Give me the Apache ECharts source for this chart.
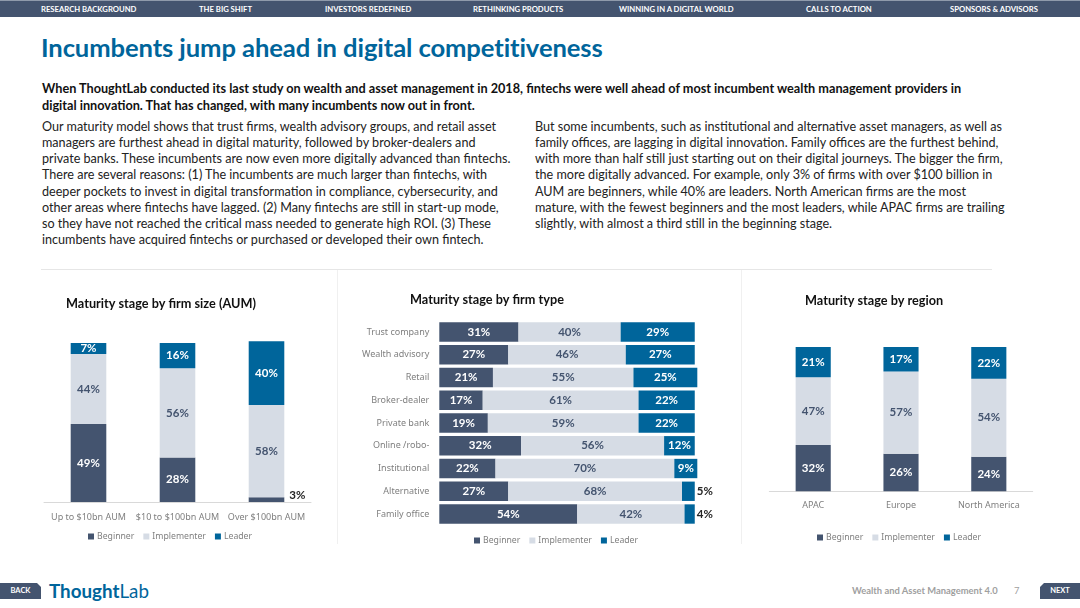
<!DOCTYPE html>
<html>
<head>
<meta charset="utf-8">
<script src="https://cdn.jsdelivr.net/npm/echarts@6/dist/echarts.min.js"></script>
<style>
  html, body { margin: 0; padding: 0; background: #fff; }
  #page { position: relative; width: 1080px; height: 608px; overflow: hidden; font-family: Lato, "Noto Sans", sans-serif; }
  #page div { position: absolute; white-space: nowrap; }
  #nav { left: 0; top: 0; width: 1080px; height: 17px; background: #44546f; border-top: 1px solid #8f9aab; box-sizing: border-box; }
  .navItem { top: 3px; font-size: 7.7px; line-height: 12px; font-weight: 700; color: #fff; }
  #heading { left: 41px; top: 32px; font-size: 25.6px; line-height: 30px; font-weight: 700; color: #00659b; letter-spacing: -0.1px; }
  .lead { left: 42px; font-size: 12.7px; line-height: 16px; font-weight: 700; color: #111; }
  .body { font-size: 12.6px; line-height: 16px; color: #222; }
  .rule { background: #e6e6e6; }
  .btn { top: 583px; height: 16px; background: #44546f; color: #fff; font-size: 7.5px; font-weight: 700; line-height: 16px; text-align: center; }
  #logo { left: 49px; top: 578px; font-size: 18.8px; line-height: 26px; color: #00659b; font-weight: 700; }
  #logo span { font-weight: 400; }
  #foot { left: 852px; top: 585px; font-size: 9.4px; line-height: 12px; font-weight: 700; color: #a0a0a0; }
  #pageNum { left: 1014px; top: 585px; font-size: 9.4px; line-height: 12px; color: #a0a0a0; }
  #chart { left: 0; top: 0; width: 1080px; height: 608px; }
</style>
</head>
<body>
<div id="page"></div>
<script>
const stages = ['Beginner', 'Implementer', 'Leader']

const sizeCategories = ['Up to $10bn AUM', '$10 to $100bn AUM', 'Over $100bn AUM']
const sizeBeginner = [49, 28, 3]
const sizeImplementer = [44, 56, 58]
const sizeLeader = [7, 16, 40]

const typeCategories = ['Trust company', 'Wealth advisory', 'Retail', 'Broker-dealer', 'Private bank', 'Online /robo-', 'Institutional', 'Alternative', 'Family office']
const typeBeginner = [31, 27, 21, 17, 19, 32, 22, 27, 54]
const typeImplementer = [40, 46, 55, 61, 59, 56, 70, 68, 42]
const typeLeader = [29, 27, 25, 22, 22, 12, 9, 5, 4]

const regionCategories = ['APAC', 'Europe', 'North America']
const regionBeginner = [32, 26, 24]
const regionImplementer = [47, 57, 54]
const regionLeader = [21, 17, 22]

const navItems = [['RESEARCH BACKGROUND', 41], ['THE BIG SHIFT', 199], ['INVESTORS REDEFINED', 325], ['RETHINKING PRODUCTS', 473], ['WINNING IN A DIGITAL WORLD', 619], ['CALLS TO ACTION', 806], ['SPONSORS & ADVISORS', 950]]
const leadLines = [
  'When ThoughtLab conducted its last study on wealth and asset management in 2018, fintechs were well ahead of most incumbent wealth management providers in',
  'digital innovation. That has changed, with many incumbents now out in front.',
]
const leftLines = [
  'Our maturity model shows that trust firms, wealth advisory groups, and retail asset',
  'managers are furthest ahead in digital maturity, followed by broker-dealers and',
  'private banks. These incumbents are now even more digitally advanced than fintechs.',
  'There are several reasons: (1) The incumbents are much larger than fintechs, with',
  'deeper pockets to invest in digital transformation in compliance, cybersecurity, and',
  'other areas where fintechs have lagged. (2) Many fintechs are still in start-up mode,',
  'so they have not reached the critical mass needed to generate high ROI. (3) These',
  'incumbents have acquired fintechs or purchased or developed their own fintech.',
]
const rightLines = [
  'But some incumbents, such as institutional and alternative asset managers, as well as',
  'family offices, are lagging in digital innovation. Family offices are the furthest behind,',
  'with more than half still just starting out on their digital journeys. The bigger the firm,',
  'the more digitally advanced. For example, only 3% of firms with over $100 billion in',
  'AUM are beginners, while 40% are leaders. North American firms are the most',
  'mature, with the fewest beginners and the most leaders, while APAC firms are trailing',
  'slightly, with almost a third still in the beginning stage.',
]

const colors = ['#44546f', '#d6dce5', '#00659b']
const labelColors = ['#fff', '#44546f', '#fff']

// page furniture
const page = document.getElementById('page')
function addDiv(id, cls, text, style) {
  const el = document.createElement('div')
  if (id) el.id = id
  if (cls) el.className = cls
  if (text) el.textContent = text
  Object.assign(el.style, style || {})
  page.appendChild(el)
  return el
}
addDiv('nav')
navItems.forEach((item) => addDiv('', 'navItem', item[0], { left: item[1] + 'px' }))
addDiv('heading', '', 'Incumbents jump ahead in digital competitiveness')
leadLines.forEach((line, i) => addDiv('', 'lead', line, { top: 80 + i * 17 + 'px' }))
leftLines.forEach((line, i) => addDiv('', 'body', line, { left: '42px', top: 119 + i * 16.14 + 'px' }))
rightLines.forEach((line, i) => addDiv('', 'body', line, { left: '535px', top: 119 + i * 16.14 + 'px' }))
addDiv('', 'rule', '', { left: '41px', top: '269px', width: '951px', height: '1px' })
addDiv('', 'rule', '', { left: '337px', top: '270px', width: '1px', height: '274px', background: '#f0f0f0' })
addDiv('', 'rule', '', { left: '741px', top: '270px', width: '1px', height: '274px', background: '#f0f0f0' })
addDiv('', 'btn', 'BACK', { left: '0', width: '41px', clipPath: 'polygon(0 0,37px 0,41px 4px,41px 100%,0 100%)' })
addDiv('', 'btn', 'NEXT', { left: '1040px', width: '40px', clipPath: 'polygon(4px 0,100% 0,100% 100%,0 100%,0 4px)' })
addDiv('logo').innerHTML = 'Thought<span>Lab</span>'
addDiv('foot', '', 'Wealth and Asset Management 4.0')
addDiv('pageNum', '', '7')
addDiv('chart')

// one stacked series per stage, small segments get their label outside the bar
function stageSeries(gridIndex, values, stage, horizontal, outsideBelow) {
  return {
    name: stages[stage],
    type: 'bar',
    stack: 'g' + gridIndex,
    xAxisIndex: gridIndex,
    yAxisIndex: gridIndex,
    barWidth: horizontal ? '85%' : '40%',
    itemStyle: { color: colors[stage] },
    label: {
      show: true,
      position: 'inside',
      formatter: '{c}%',
      fontFamily: 'Lato',
      fontSize: 11.5,
      fontWeight: 700,
      color: labelColors[stage],
    },
    data: values.map((v) => {
      if (v >= outsideBelow) return v
      return {
        value: v,
        label: {
          position: 'right',
          distance: horizontal ? 2 : 5,
          offset: horizontal ? [0, 0] : [0, -4],
          color: '#262626',
        },
      }
    }),
  }
}

const axisText = { color: '#7f7f7f', fontFamily: 'Noto Sans', fontSize: 9 }
const baseLine = { lineStyle: { color: '#d9d9d9', width: 1 } }

function columnAxes(categories, margin) {
  return {
    x: {
      type: 'category',
      data: categories,
      axisTick: { show: false },
      axisLine: baseLine,
      axisLabel: Object.assign({ margin: margin, interval: 0 }, axisText),
    },
    y: { type: 'value', min: 0, max: 110, show: false, splitLine: { show: false } },
  }
}

const sizeAxes = columnAxes(sizeCategories, 10.5)
const regionAxes = columnAxes(regionCategories, 10)

const legendBase = {
  data: stages,
  icon: 'rect',
  itemWidth: 6,
  itemHeight: 6,
  itemGap: 9,
  selectedMode: false,
  padding: 0,
  textStyle: { color: '#7f7f7f', fontFamily: 'Noto Sans', fontSize: 8.7, padding: [0, 0, 0, -2] },
}

const titleStyle = { fontFamily: 'Lato', fontSize: 12.7, fontWeight: 700, color: '#111' }

const option = {
  animation: false,
  title: [
    { text: 'Maturity stage by firm size (AUM)', left: 66, top: 297, padding: 0, textStyle: titleStyle },
    { text: 'Maturity stage by firm type', left: 410, top: 293, padding: 0, textStyle: titleStyle },
    { text: 'Maturity stage by region', left: 805, top: 294, padding: 0, textStyle: titleStyle },
  ],
  legend: [
    Object.assign({}, legendBase, { left: 88, top: 532 }),
    Object.assign({}, legendBase, { left: 474, top: 536 }),
    Object.assign({}, legendBase, { left: 817, top: 533 }),
  ],
  grid: [
    { left: 44, width: 267, top: 327, height: 175 },
    { left: 439.3, width: 281, top: 320.6, height: 204.8 },
    { left: 769.3, width: 263.4, top: 332.5, height: 158.8 },
  ],
  xAxis: [
    Object.assign({ gridIndex: 0 }, sizeAxes.x),
    { gridIndex: 1, type: 'value', min: 0, max: 110, show: false, splitLine: { show: false } },
    Object.assign({ gridIndex: 2 }, regionAxes.x),
  ],
  yAxis: [
    Object.assign({ gridIndex: 0 }, sizeAxes.y),
    {
      gridIndex: 1,
      type: 'category',
      inverse: true,
      data: typeCategories,
      axisTick: { show: false },
      axisLine: { show: false },
      axisLabel: Object.assign({ margin: 10, interval: 0 }, axisText),
    },
    Object.assign({ gridIndex: 2 }, regionAxes.y),
  ],
  series: [
    stageSeries(0, sizeBeginner, 0, false, 5),
    stageSeries(0, sizeImplementer, 1, false, 5),
    stageSeries(0, sizeLeader, 2, false, 5),
    stageSeries(1, typeBeginner, 0, true, 6),
    stageSeries(1, typeImplementer, 1, true, 6),
    stageSeries(1, typeLeader, 2, true, 6),
    stageSeries(2, regionBeginner, 0, false, 5),
    stageSeries(2, regionImplementer, 1, false, 5),
    stageSeries(2, regionLeader, 2, false, 5),
  ],
}

const myChart = echarts.init(document.getElementById('chart'))
myChart.setOption(option)
</script>
</body>
</html>
